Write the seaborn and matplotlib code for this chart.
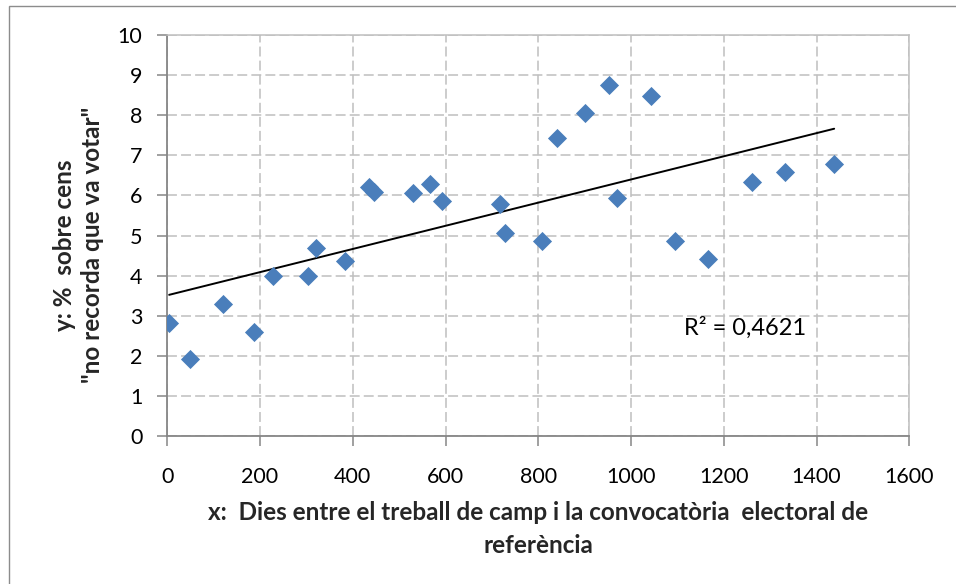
import numpy as np
import pandas as pd
import matplotlib
matplotlib.use("Agg")
import matplotlib.pyplot as plt
import seaborn as sns
from matplotlib.patches import Rectangle

# ---- data ----
dies = [4, 50, 120, 186, 229, 304, 320, 383, 434, 445, 529, 566, 592,
        718, 728, 809, 840, 900, 952, 970, 1043, 1095, 1167, 1261, 1333, 1438]
pct = [2.83, 1.93, 3.30, 2.60, 3.99, 3.99, 4.68, 4.37, 6.22, 6.08, 6.07, 6.28, 5.85,
       5.78, 5.05, 4.86, 7.44, 8.05, 8.76, 5.94, 8.49, 4.87, 4.41, 6.33, 6.59, 6.78]
x_ticks = [0, 200, 400, 600, 800, 1000, 1200, 1400, 1600]
y_ticks = [0, 1, 2, 3, 4, 5, 6, 7, 8, 9, 10]
r2_label = "R² = 0,4621"
x_label = "x:  Dies entre el treball de camp i la convocatòria  electoral de\nreferència"
y_label = 'y: %  sobre cens\n"no recorda que va votar"'

df = pd.DataFrame({"dies": dies, "pct": pct})

sns.set_theme(style="white")
plt.rcParams["font.family"] = ["Lato", "DejaVu Sans"]

fig = plt.figure(figsize=(9.56, 5.84), dpi=100)
W, H = 956, 584
ax = fig.add_axes([167.3 / W, 1 - 436 / H, (909.3 - 167.3) / W, (436 - 35) / H])

# outer chart border
fig.patches.append(Rectangle((9 / W, -0.05), 1.2, 1 - 6 / H + 0.05, transform=fig.transFigure,
                             fill=False, edgecolor="#8c8c8c", linewidth=1.0, zorder=0))

grid_c = "#bfbfbf"
ax.set_axisbelow(True)
ax.grid(True, color=grid_c, linewidth=1.1, linestyle=(0, (6.5, 2.7)))

sns.regplot(data=df, x="dies", y="pct", scatter=False, ci=None, truncate=True,
            line_kws=dict(color="black", linewidth=1.4, zorder=2), ax=ax)
sns.scatterplot(data=df, x="dies", y="pct", marker="D", s=95, color="#4a7ebb",
                linewidth=0, zorder=3, ax=ax)

ax.set_xlim(0, 1600)
ax.set_ylim(0, 10)
ax.set_xticks(x_ticks)
ax.set_yticks(y_ticks)

for side in ["left", "bottom"]:
    ax.spines[side].set_color("#868686")
    ax.spines[side].set_linewidth(1.3)
for side in ["top", "right"]:
    ax.spines[side].set_color(grid_c)
    ax.spines[side].set_linewidth(1.1)

ax.tick_params(axis="both", which="major", direction="out", length=7, width=1.1,
               color="#868686", labelsize=15.5, labelcolor="black")
ax.tick_params(axis="y", pad=11, left=True)
ax.tick_params(axis="x", pad=15.5, bottom=True)

ax.set_xlabel(x_label, fontsize=17.5, fontweight="bold", linespacing=1.57, va="center")
ax.xaxis.set_label_coords(0.5, -0.232)
ax.set_ylabel(y_label, fontsize=17.5, fontweight="bold", linespacing=1.22, va="center")
ax.yaxis.set_label_coords(-0.1197, 0.476)

ax.text(1114, 2.52, r2_label, fontsize=17, ha="left", va="baseline", color="black")

fig.savefig("out.png", dpi=100)
